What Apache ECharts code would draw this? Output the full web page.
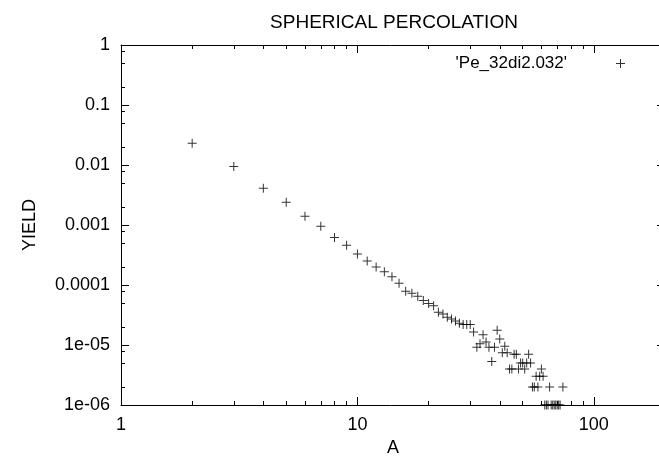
<!DOCTYPE html>
<html>
<head>
<meta charset="utf-8">
<script src="https://cdn.jsdelivr.net/npm/echarts@6/dist/echarts.min.js"></script>
<style>
  html, body { margin: 0; padding: 0; background: #fff; }
  #chart { width: 659px; height: 462px; }
</style>
</head>
<body>
<div id="chart"></div>
<script>
// Cluster size A and its yield
const sizeA = [
  2, 3, 4, 5, 6, 7, 8, 9, 10, 11, 12, 13, 14, 15, 16, 17, 18, 19, 20, 21,
  22, 23, 24, 25, 26, 27, 28, 29, 30, 31, 32, 33, 34, 35, 36, 37, 38, 39, 40, 41,
  42, 43, 44, 45, 46, 47, 48, 49, 50, 51, 52, 53, 54, 55, 56, 57, 58, 59, 60, 61,
  62, 63, 64, 65, 66, 67, 68, 69, 70, 71, 72, 74
];
const yieldY = [
  0.023, 0.0094, 0.0041, 0.0024, 0.0014, 0.00095, 0.00062, 0.00046, 0.00033, 0.00025,
  0.00020, 0.000167, 0.000137, 0.000107, 0.000079, 0.000073, 0.000065, 0.000055, 0.000049, 0.000045,
  0.000035, 0.000033, 0.000029, 0.000027, 0.000025, 0.000023, 0.000022, 0.000022, 0.000022, 0.0000165,
  0.0000092, 0.0000105, 0.0000148, 0.0000112, 0.0000092, 0.0000053, 0.0000092, 0.0000176, 0.0000126, 0.0000074,
  0.0000095, 0.0000074, 0.000004, 0.000004, 0.000007, 0.000007, 0.000004, 0.000005, 0.000005, 0.000004,
  0.000005, 0.000007, 0.000005, 0.000002, 0.000002, 0.000003, 0.000002, 0.000003, 0.000004, 0.000003,
  0.000001, 0.000001, 0.000001, 0.000002, 0.000001, 0.000001, 0.000001, 0.000001, 0.000001, 0.000001,
  0.000001, 0.000002
];

// Tick positions
const xMajorTicks = [1, 10, 100];
const xMinorTicks = [2, 3, 4, 5, 6, 7, 8, 9, 20, 30, 40, 50, 60, 70, 80, 90, 200];
const yMajorTicks = [1, 0.1, 0.01, 0.001, 0.0001, 0.00001, 0.000001];
const yTickLabels = ['1', '0.1', '0.01', '0.001', '0.0001', '1e-05', '1e-06'];
const yMinorTicks = [
  0.8, 0.5, 0.2, 0.08, 0.05, 0.02, 0.008, 0.005, 0.002,
  0.0008, 0.0005, 0.0002, 0.00008, 0.00005, 0.00002, 0.000008, 0.000005, 0.000002
];

const seriesName = "'Pe_32di2.032'";
const titleText = 'SPHERICAL PERCOLATION';

const FONT = 'Liberation Sans, Arial, sans-serif';
const INK = '#000';
const PLUS = 'path://M4,0H5V4H9V5H5V9H4V5H0V4H4Z';

const X_MIN = 1, X_MAX = 200, Y_MIN = 0.000001, Y_MAX = 1;

function xAxisDef(position, ticks, len, opts) {
  return Object.assign({
    type: 'log', logBase: 10, min: X_MIN, max: X_MAX, position: position,
    axisLine: { show: false, onZero: false },
    axisTick: { show: true, inside: true, length: len, customValues: ticks,
                lineStyle: { color: INK, width: 1 } },
    axisLabel: { show: false },
    splitLine: { show: false }, minorTick: { show: false }
  }, opts || {});
}
function yAxisDef(position, ticks, len, opts) {
  return Object.assign({
    type: 'log', logBase: 10, min: Y_MIN, max: Y_MAX, position: position,
    axisLine: { show: false, onZero: false },
    axisTick: { show: true, inside: true, length: len, customValues: ticks,
                lineStyle: { color: INK, width: 1 } },
    axisLabel: { show: false },
    splitLine: { show: false }, minorTick: { show: false }
  }, opts || {});
}

const chart = echarts.init(document.getElementById('chart'), null, { renderer: 'canvas' });

chart.setOption({
  animation: false,
  backgroundColor: '#fff',
  title: {
    text: titleText, left: 389, top: 8, textAlign: 'center',
    textStyle: { fontFamily: FONT, fontSize: 19, fontWeight: 'normal', color: INK }
  },
  legend: {
    data: [seriesName], right: 29, top: 50, align: 'right',
    icon: PLUS, itemWidth: 9, itemHeight: 9,
    textStyle: { fontFamily: FONT, fontSize: 17, color: INK, padding: [0, 44, 0, 0] },
    selectedMode: false
  },
  // the frame runs a few pixels past the right edge of the canvas
  grid: { left: 121, top: 45, width: 544, height: 360, show: false,
          outerBoundsMode: 'none', containLabel: false },
  xAxis: [
    xAxisDef('bottom', xMajorTicks, 8, {
      axisLine: { show: true, onZero: false, lineStyle: { color: INK, width: 1 } },
      axisLabel: { show: true, customValues: xMajorTicks, margin: 11,
                   fontFamily: FONT, fontSize: 18, color: INK,
                   formatter: v => String(v) },
      name: 'A', nameLocation: 'middle', nameGap: 32,
      nameTextStyle: { fontFamily: FONT, fontSize: 18, color: INK }
    }),
    xAxisDef('bottom', xMinorTicks, 4),
    xAxisDef('top', xMajorTicks, 8, {
      axisLine: { show: true, onZero: false, lineStyle: { color: INK, width: 1 } }
    }),
    xAxisDef('top', xMinorTicks, 4)
  ],
  yAxis: [
    yAxisDef('left', yMajorTicks, 8, {
      axisLine: { show: true, onZero: false, lineStyle: { color: INK, width: 1 } },
      axisLabel: { show: true, customValues: yMajorTicks, margin: 11,
                   fontFamily: FONT, fontSize: 18, color: INK,
                   formatter: v => {
                     const i = yMajorTicks.findIndex(t => Math.abs(Math.log10(t) - Math.log10(v)) < 1e-6);
                     return i >= 0 ? yTickLabels[i] : '';
                   } },
      name: 'YIELD', nameLocation: 'middle', nameGap: 82, nameRotate: 90,
      nameTextStyle: { fontFamily: FONT, fontSize: 18, color: INK }
    }),
    yAxisDef('left', yMinorTicks, 4),
    yAxisDef('right', yMajorTicks, 8, {
      axisLine: { show: true, onZero: false, lineStyle: { color: INK, width: 1 } }
    }),
    yAxisDef('right', yMinorTicks, 4)
  ],
  series: [{
    name: seriesName,
    type: 'scatter',
    xAxisIndex: 0, yAxisIndex: 0,
    data: sizeA.map((a, i) => [a, yieldY[i]]),
    symbol: PLUS, symbolSize: 9,
    itemStyle: { color: INK },
    clip: true,
    emphasis: { disabled: true }
  }]
});
</script>
</body>
</html>
